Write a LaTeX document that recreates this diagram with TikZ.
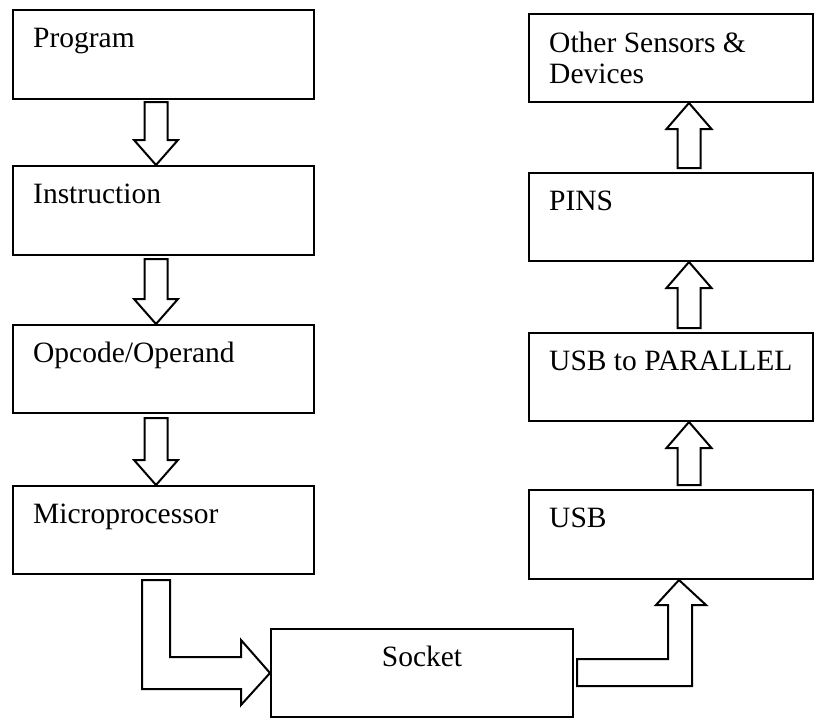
\documentclass[tikz,border=0pt]{standalone}
\usepackage{fontspec}
\setmainfont{Liberation Serif}
\usetikzlibrary{calc}
\tikzset{
 box/.style={draw, line width=2pt, rectangle, minimum width=301pt, minimum height=89pt, anchor=north west, inner sep=0pt},
 lbl/.style={anchor=base west, inner sep=0pt, font=\fontsize{29.5}{31}\selectfont, align=left},
 blk/.style={draw, line width=2pt, fill=white, line join=miter},
}
\newcommand{\dnblk}[2]{\draw[blk] let \p1=(#1), \p2=(#2) in (\x2-11.5pt,\y1) -- (\x2-11.5pt,\y2+25pt) -- (\x2-22pt,\y2+25pt) -- (\x2,\y2) -- (\x2+22pt,\y2+25pt) -- (\x2+11.5pt,\y2+25pt) -- (\x2+11.5pt,\y1) -- cycle;}
\newcommand{\upblk}[2]{\draw[blk] let \p1=(#1), \p2=(#2) in (\x2-11.5pt,\y1) -- (\x2-11.5pt,\y2-26pt) -- (\x2-22.5pt,\y2-26pt) -- (\x2,\y2) -- (\x2+22.5pt,\y2-26pt) -- (\x2+11.5pt,\y2-26pt) -- (\x2+11.5pt,\y1) -- cycle;}
\begin{document}
\begin{tikzpicture}[x=1pt,y=-1pt]
\useasboundingbox (0,0) rectangle (820,718);
% boxes
\node[box] (prog) at (12,9) {};
\node[box] (instr) at (12,165) {};
\node[box, minimum height=88pt] (opc) at (12,324) {};
\node[box, minimum height=88pt] (micro) at (12,485) {};
\node[box, minimum width=284pt, minimum height=88pt] (oth) at (528,13) {};
\node[box, minimum width=284pt, minimum height=88pt] (pins) at (528,172) {};
\node[box, minimum width=284pt, minimum height=88pt] (usbp) at (528,332) {};
\node[box, minimum width=284pt] (usb) at (528,489) {};
\node[box, minimum width=302pt, minimum height=88pt] (sock) at (270,628) {};
% labels
\node[lbl] (tprog) at ($(prog.north west)+(21,38)$) {Program};
\node[lbl] (tinstr) at ($(instr.north west)+(21,38)$) {Instruction};
\node[lbl] (topc) at ($(opc.north west)+(21,38)$) {Opcode/Operand};
\node[lbl] (tmicro) at ($(micro.north west)+(21,38)$) {Microprocessor};
\node[lbl] (toth) at ($(oth.north west)+(21,70)$) {Other Sensors \&\\Devices};
\node[lbl] (tpins) at ($(pins.north west)+(21,38)$) {PINS};
\node[lbl] (tusbp) at ($(usbp.north west)+(21,38)$) {USB to PARALLEL};
\node[lbl] (tusb) at ($(usb.north west)+(21,38)$) {USB};
\node[lbl, anchor=base] (tsock) at ($(sock.north)+(0,38)$) {Socket};
% arrow end points
\coordinate (a1s) at ($(prog.south west)+(144,2)$);
\coordinate (a1t) at ($(instr.north west)+(144,0)$);
\coordinate (a2s) at ($(instr.south west)+(144,3)$);
\coordinate (a2t) at ($(opc.north west)+(144,0)$);
\coordinate (a3s) at ($(opc.south west)+(144,4)$);
\coordinate (a3t) at ($(micro.north west)+(144,0)$);
\coordinate (b1s) at ($(pins.north west)+(161,-4)$);
\coordinate (b1t) at ($(oth.south west)+(161,0)$);
\coordinate (b2s) at ($(usbp.north west)+(161,-4)$);
\coordinate (b2t) at ($(pins.south west)+(161,0)$);
\coordinate (b3s) at ($(usb.north west)+(161,-4)$);
\coordinate (b3t) at ($(usbp.south west)+(161,0)$);
% straight block arrows
\dnblk{a1s}{a1t}
\dnblk{a2s}{a2t}
\dnblk{a3s}{a3t}
\upblk{b1s}{b1t}
\upblk{b2s}{b2t}
\upblk{b3s}{b3t}
% bent block arrows
\draw[blk] let \p1=(micro.south west), \p2=(sock.west) in
  (\x1+130pt,\y1-5pt) -- (\x1+158pt,\y1-5pt) -- (\x1+158pt,\y2+16pt) -- (\x2-29pt,\y2+16pt)
  -- (\x2-29pt,\y2+33pt) -- (\x2,\y2) -- (\x2-29pt,\y2-32pt) -- (\x2-29pt,\y2-16pt)
  -- (\x1+130pt,\y2-16pt) -- cycle;
\draw[blk] let \p1=(sock.east), \p2=(usb.south west) in
  (\x1+3pt,\y1+14pt) -- (\x2+140pt,\y1+14pt) -- (\x2+140pt,\y2-25pt) -- (\x2+128pt,\y2-25pt)
  -- (\x2+151pt,\y2) -- (\x2+178pt,\y2-25pt) -- (\x2+164pt,\y2-25pt) -- (\x2+164pt,\y1-13pt)
  -- (\x1+3pt,\y1-13pt) -- cycle;
\end{tikzpicture}
\end{document}
